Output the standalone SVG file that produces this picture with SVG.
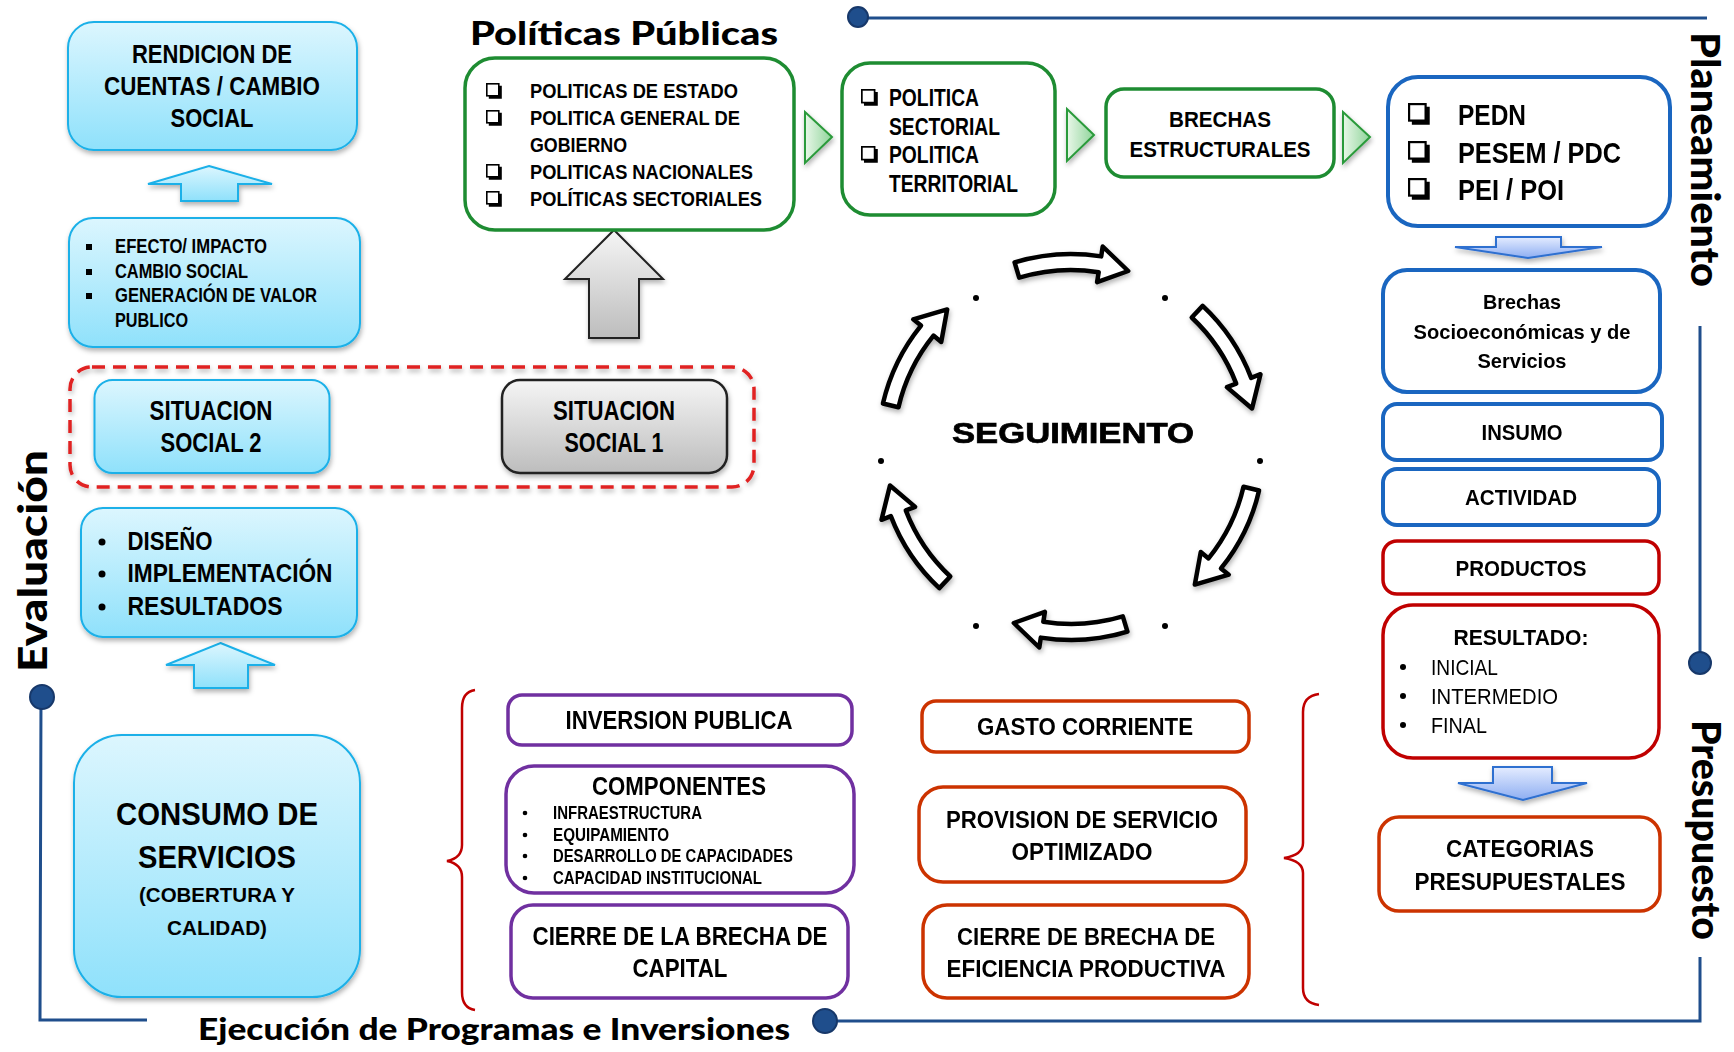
<svg xmlns="http://www.w3.org/2000/svg" width="1734" height="1052" viewBox="0 0 1734 1052">
<defs>
<style>
text{font-family:"Liberation Sans",Arial,sans-serif;fill:#000}
.b{font-weight:bold}
.c{text-anchor:middle}
.ttl{font-family:Lato,"Open Sans","Liberation Sans",sans-serif;font-weight:900}
.lb{fill:url(#gLb);stroke:#1ab0e8;stroke-width:2}
.grn{fill:#fff;stroke:#1e8c32;stroke-width:3.5}
.blu{fill:#fff;stroke:#1a66c0;stroke-width:4}
.red{fill:#fff;stroke:#c00000;stroke-width:3.5}
.org{fill:#fff;stroke:#cc3300;stroke-width:3.5}
.pur{fill:#fff;stroke:#7030a0;stroke-width:3.5}
.frame{fill:none;stroke:#1f4e8c;stroke-width:3}
.dot{fill:#1f4e8c;stroke:#17386a;stroke-width:2}
.brace{fill:none;stroke:#c00000;stroke-width:2.5}
.tri{fill:url(#gTri);stroke:#2a9a3a;stroke-width:2}
.dn{fill:url(#gBd);stroke:#2f6fd0;stroke-width:2}
.cyc{fill:#fff;stroke:#000;stroke-width:4.5;stroke-linejoin:round}
</style>
<linearGradient id="gLb" x1="0" y1="0" x2="0" y2="1"><stop offset="0" stop-color="#dcf6fe"/><stop offset="1" stop-color="#8fe1fb"/></linearGradient>
<linearGradient id="gGr" x1="0" y1="0" x2="0" y2="1"><stop offset="0" stop-color="#f5f5f5"/><stop offset="1" stop-color="#bdbdbd"/></linearGradient>
<linearGradient id="gTri" x1="0" y1="0" x2="1" y2="0"><stop offset="0" stop-color="#e8f7e8"/><stop offset="1" stop-color="#8fd49a"/></linearGradient>
<linearGradient id="gBd" x1="0" y1="0" x2="0" y2="1"><stop offset="0" stop-color="#e4ecff"/><stop offset="1" stop-color="#8eaef2"/></linearGradient>
<filter id="sh" x="-20%" y="-20%" width="140%" height="150%"><feDropShadow dx="1" dy="3" stdDeviation="2.5" flood-color="#000" flood-opacity="0.3"/></filter>
<symbol id="chk" viewBox="0 0 20 20"><rect x="1" y="1" width="15" height="15" fill="#fff" stroke="#000" stroke-width="2"/><path d="M3.5,18 H18 V3.5" fill="none" stroke="#000" stroke-width="3.5"/></symbol>
<path id="carc" class="cyc" d="M1014.6,262.4 A193,193 0 0 1 1101.2,256.4 L1102.7,246.5 L1128.2,271.0 L1097.1,282.1 L1098.7,272.2 A177,177 0 0 0 1019.2,277.7 Z"/>
</defs>
<rect width="1734" height="1052" fill="#fff"/>

<!-- frame lines -->
<g id="frame">
<path class="frame" d="M858,18 L1707,18"/>
<circle class="dot" cx="858" cy="17" r="10"/>
<path class="frame" d="M1700,326 L1700,663"/>
<circle class="dot" cx="1700" cy="663" r="11"/>
<path class="frame" d="M1700,957 L1700,1021 L825,1021"/>
<circle class="dot" cx="825" cy="1021" r="12"/>
<path class="frame" d="M147,1020 L40,1020 L41,697"/>
<circle class="dot" cx="42" cy="697" r="12"/>
</g>

<!-- titles -->
<g id="titles">
<text class="ttl" x="470" y="45" font-size="33" textLength="308" lengthAdjust="spacingAndGlyphs">Políticas Públicas</text>
<text class="ttl" x="198" y="1040" font-size="31" textLength="592" lengthAdjust="spacingAndGlyphs">Ejecución de Programas e Inversiones</text>
<text class="ttl c" transform="translate(47,561) rotate(-90)" font-size="40" textLength="222" lengthAdjust="spacingAndGlyphs">Evaluación</text>
<text class="ttl c" transform="translate(1691,159.5) rotate(90)" font-size="40" textLength="255" lengthAdjust="spacingAndGlyphs">Planeamiento</text>
<text class="ttl c" transform="translate(1692,830) rotate(90)" font-size="40" textLength="220" lengthAdjust="spacingAndGlyphs">Presupuesto</text>
</g>

<!-- connectors -->
<g id="connectors">
<path class="lb" filter="url(#sh)" d="M209,166 L272,184 L238,184 L238,201 L181,201 L181,184 L148,184 Z"/>
<path class="lb" filter="url(#sh)" d="M220.5,643 L275,665 L248,665 L248,688 L194,688 L194,665 L166,665 Z"/>
<path fill="url(#gGr)" stroke="#222" stroke-width="2" filter="url(#sh)" d="M614,230 L663,279 L639,279 L639,338 L589,338 L589,279 L565,279 Z"/>
<path class="tri" filter="url(#sh)" d="M805,112 L832,137 L805,163 Z"/>
<path class="tri" filter="url(#sh)" d="M1067,109 L1094,135 L1067,161 Z"/>
<path class="tri" filter="url(#sh)" d="M1343,112 L1370,137 L1343,163 Z"/>
<path class="dn" filter="url(#sh)" d="M1496,237 L1561,237 L1561,247 L1602,247 L1528,258 L1455,247 L1496,247 Z"/>
<path class="dn" filter="url(#sh)" d="M1493,767 L1552,767 L1552,783 L1587,783 L1523,800 L1458,783 L1493,783 Z"/>
<path class="brace" d="M475,690 Q462,692 462,708 L462,845 Q462,858 447,861 Q462,864 462,877 L462,992 Q462,1008 475,1010"/>
<path class="brace" d="M1319,694 Q1303,696 1303,712 L1303,843 Q1303,855 1284,858 Q1303,861 1303,873 L1303,988 Q1303,1003 1319,1005"/>
</g>

<!-- seguimiento cycle -->
<g id="seguimiento">
<g filter="url(#sh)">
<use href="#carc"/>
<use href="#carc" transform="rotate(60 1071 447)"/>
<use href="#carc" transform="rotate(120 1071 447)"/>
<use href="#carc" transform="rotate(180 1071 447)"/>
<use href="#carc" transform="rotate(240 1071 447)"/>
<use href="#carc" transform="rotate(300 1071 447)"/>
</g>
<circle cx="976" cy="298" r="3"/><circle cx="1165" cy="298" r="3"/>
<circle cx="881" cy="461" r="3"/><circle cx="1260" cy="461" r="3"/>
<circle cx="976" cy="626" r="3"/><circle cx="1165" cy="626" r="3"/>
<text class="b c" x="1073" y="443" font-size="29" stroke="#000" stroke-width="0.7" textLength="242" lengthAdjust="spacingAndGlyphs">SEGUIMIENTO</text>
</g>

<!-- left column -->
<g id="rendicion">
<rect class="lb" filter="url(#sh)" x="68" y="22" width="289" height="128" rx="26"/>
<text class="b c" x="212" y="63" font-size="25.5" textLength="160" lengthAdjust="spacingAndGlyphs">RENDICION DE</text>
<text class="b c" x="212" y="95" font-size="25.5" textLength="216" lengthAdjust="spacingAndGlyphs">CUENTAS / CAMBIO</text>
<text class="b c" x="212" y="127" font-size="25.5" textLength="83" lengthAdjust="spacingAndGlyphs">SOCIAL</text>
</g>
<g id="efecto">
<rect class="lb" filter="url(#sh)" x="69" y="218" width="291" height="129" rx="24"/>
<rect x="86" y="244" width="6" height="6"/><rect x="86" y="269" width="6" height="6"/><rect x="86" y="293" width="6" height="6"/>
<text class="b" x="115" y="253" font-size="19.5" textLength="152" lengthAdjust="spacingAndGlyphs">EFECTO/ IMPACTO</text>
<text class="b" x="115" y="278" font-size="19.5" textLength="133" lengthAdjust="spacingAndGlyphs">CAMBIO SOCIAL</text>
<text class="b" x="115" y="302" font-size="19.5" textLength="202" lengthAdjust="spacingAndGlyphs">GENERACIÓN  DE VALOR</text>
<text class="b" x="115" y="327" font-size="19.5" textLength="73" lengthAdjust="spacingAndGlyphs">PUBLICO</text>
</g>
<g id="situaciones">
<rect x="70" y="367" width="684" height="120" rx="22" fill="none" stroke="#e02020" stroke-width="3.5" stroke-dasharray="13 8" filter="url(#sh)"/>
</g>
<g id="situacion2">
<rect class="lb" filter="url(#sh)" x="94.5" y="380" width="235" height="93" rx="18"/>
<text class="b c" x="211" y="420" font-size="27" textLength="123" lengthAdjust="spacingAndGlyphs">SITUACION</text>
<text class="b c" x="211" y="452" font-size="27" textLength="101" lengthAdjust="spacingAndGlyphs">SOCIAL 2</text>
</g>
<g id="situacion1">
<rect fill="url(#gGr)" stroke="#222" stroke-width="2.5" filter="url(#sh)" x="502" y="380" width="225" height="93" rx="18"/>
<text class="b c" x="614" y="420" font-size="27" textLength="122" lengthAdjust="spacingAndGlyphs">SITUACION</text>
<text class="b c" x="614" y="452" font-size="27" textLength="99" lengthAdjust="spacingAndGlyphs">SOCIAL 1</text>
</g>
<g id="diseno">
<rect class="lb" filter="url(#sh)" x="81" y="508" width="276" height="129" rx="22"/>
<circle cx="102" cy="542" r="3.5"/><circle cx="102" cy="574" r="3.5"/><circle cx="102" cy="607" r="3.5"/>
<text class="b" x="127.5" y="550" font-size="25" textLength="85" lengthAdjust="spacingAndGlyphs">DISEÑO</text>
<text class="b" x="127.5" y="582" font-size="25" textLength="205" lengthAdjust="spacingAndGlyphs">IMPLEMENTACIÓN</text>
<text class="b" x="127.5" y="615" font-size="25" textLength="155" lengthAdjust="spacingAndGlyphs">RESULTADOS</text>
</g>
<g id="consumo">
<rect class="lb" filter="url(#sh)" x="74" y="735" width="286" height="262" rx="48"/>
<text class="b c" x="217" y="825" font-size="32" textLength="202" lengthAdjust="spacingAndGlyphs">CONSUMO DE</text>
<text class="b c" x="217" y="868" font-size="32" textLength="158" lengthAdjust="spacingAndGlyphs">SERVICIOS</text>
<text class="b c" x="217" y="902" font-size="21" textLength="156" lengthAdjust="spacingAndGlyphs">(COBERTURA Y</text>
<text class="b c" x="217" y="935" font-size="21" textLength="100" lengthAdjust="spacingAndGlyphs">CALIDAD)</text>
</g>

<!-- top row -->
<g id="politicas">
<rect class="grn" x="465" y="58" width="329" height="172" rx="30"/>
<use href="#chk" x="486" y="83" width="16" height="16"/>
<use href="#chk" x="486" y="110" width="16" height="16"/>
<use href="#chk" x="486" y="164" width="16" height="16"/>
<use href="#chk" x="486" y="191" width="16" height="16"/>
<text class="b" x="530" y="98" font-size="21" textLength="208" lengthAdjust="spacingAndGlyphs">POLITICAS DE ESTADO</text>
<text class="b" x="530" y="125" font-size="21" textLength="210" lengthAdjust="spacingAndGlyphs">POLITICA GENERAL  DE</text>
<text class="b" x="530" y="152" font-size="21" textLength="97" lengthAdjust="spacingAndGlyphs">GOBIERNO</text>
<text class="b" x="530" y="179" font-size="21" textLength="223" lengthAdjust="spacingAndGlyphs">POLITICAS NACIONALES</text>
<text class="b" x="530" y="206" font-size="21" textLength="232" lengthAdjust="spacingAndGlyphs">POLÍTICAS SECTORIALES</text>
</g>
<g id="sectorial">
<rect class="grn" x="842" y="63" width="213" height="152" rx="28"/>
<use href="#chk" x="861" y="89" width="17" height="17"/>
<use href="#chk" x="861" y="146" width="17" height="17"/>
<text class="b" x="889" y="106" font-size="23.5" textLength="90" lengthAdjust="spacingAndGlyphs">POLITICA</text>
<text class="b" x="889" y="135" font-size="23.5" textLength="111" lengthAdjust="spacingAndGlyphs">SECTORIAL</text>
<text class="b" x="889" y="163" font-size="23.5" textLength="90" lengthAdjust="spacingAndGlyphs">POLITICA</text>
<text class="b" x="889" y="192" font-size="23.5" textLength="129" lengthAdjust="spacingAndGlyphs">TERRITORIAL</text>
</g>
<g id="brechas-estructurales">
<rect class="grn" x="1106" y="89" width="228" height="88" rx="18"/>
<text class="b c" x="1220" y="127" font-size="22" textLength="102" lengthAdjust="spacingAndGlyphs">BRECHAS</text>
<text class="b c" x="1220" y="157" font-size="22" textLength="181" lengthAdjust="spacingAndGlyphs">ESTRUCTURALES</text>
</g>
<g id="pedn">
<rect class="blu" x="1388" y="77" width="282" height="149" rx="30"/>
<use href="#chk" x="1408" y="103" width="22" height="22"/>
<use href="#chk" x="1408" y="141" width="22" height="22"/>
<use href="#chk" x="1408" y="178" width="22" height="22"/>
<text class="b" x="1458" y="125" font-size="30" textLength="68" lengthAdjust="spacingAndGlyphs">PEDN</text>
<text class="b" x="1458" y="163" font-size="30" textLength="163" lengthAdjust="spacingAndGlyphs">PESEM / PDC</text>
<text class="b" x="1458" y="200" font-size="30" textLength="106" lengthAdjust="spacingAndGlyphs">PEI / POI</text>
</g>

<!-- right column -->
<g id="brechas-socio">
<rect class="blu" x="1383" y="270" width="277" height="122" rx="24"/>
<text class="b c" x="1522" y="309" font-size="21" textLength="78" lengthAdjust="spacingAndGlyphs">Brechas</text>
<text class="b c" x="1522" y="339" font-size="21" textLength="217" lengthAdjust="spacingAndGlyphs">Socioeconómicas y de</text>
<text class="b c" x="1522" y="368" font-size="21" textLength="89" lengthAdjust="spacingAndGlyphs">Servicios</text>
</g>
<g id="insumo">
<rect class="blu" x="1383" y="404" width="279" height="56" rx="14"/>
<text class="b c" x="1522" y="440" font-size="22" textLength="81" lengthAdjust="spacingAndGlyphs">INSUMO</text>
</g>
<g id="actividad">
<rect class="blu" x="1383" y="469" width="276" height="56" rx="14"/>
<text class="b c" x="1521" y="505" font-size="22" textLength="112" lengthAdjust="spacingAndGlyphs">ACTIVIDAD</text>
</g>
<g id="productos">
<rect class="red" x="1383" y="541" width="276" height="53" rx="14"/>
<text class="b c" x="1521" y="576" font-size="22" textLength="131" lengthAdjust="spacingAndGlyphs">PRODUCTOS</text>
</g>
<g id="resultado">
<rect class="red" x="1383" y="605" width="276" height="153" rx="30"/>
<text class="b c" x="1521" y="645" font-size="22" textLength="135" lengthAdjust="spacingAndGlyphs">RESULTADO:</text>
<circle cx="1403" cy="667" r="3"/><circle cx="1403" cy="696" r="3"/><circle cx="1403" cy="725" r="3"/>
<text x="1431" y="675" font-size="22" textLength="67" lengthAdjust="spacingAndGlyphs">INICIAL</text>
<text x="1431" y="704" font-size="22" textLength="127" lengthAdjust="spacingAndGlyphs">INTERMEDIO</text>
<text x="1431" y="733" font-size="22" textLength="56" lengthAdjust="spacingAndGlyphs">FINAL</text>
</g>
<g id="categorias">
<rect class="org" x="1379" y="817" width="281" height="94" rx="20"/>
<text class="b c" x="1520" y="857" font-size="23.5" textLength="148" lengthAdjust="spacingAndGlyphs">CATEGORIAS</text>
<text class="b c" x="1520" y="890" font-size="23.5" textLength="211" lengthAdjust="spacingAndGlyphs">PRESUPUESTALES</text>
</g>

<!-- bottom middle -->
<g id="inversion">
<rect class="pur" x="508" y="695" width="344" height="50" rx="14"/>
<text class="b c" x="679" y="729" font-size="25" textLength="227" lengthAdjust="spacingAndGlyphs">INVERSION PUBLICA</text>
</g>
<g id="componentes">
<rect class="pur" x="506" y="766" width="348" height="127" rx="28"/>
<text class="b c" x="679" y="795" font-size="25" textLength="174" lengthAdjust="spacingAndGlyphs">COMPONENTES</text>
<circle cx="525" cy="813" r="2.3"/><circle cx="525" cy="835" r="2.3"/><circle cx="525" cy="856" r="2.3"/><circle cx="525" cy="878" r="2.3"/>
<text class="b" x="553" y="819" font-size="18" textLength="149" lengthAdjust="spacingAndGlyphs">INFRAESTRUCTURA</text>
<text class="b" x="553" y="841" font-size="18" textLength="116" lengthAdjust="spacingAndGlyphs">EQUIPAMIENTO</text>
<text class="b" x="553" y="862" font-size="18" textLength="240" lengthAdjust="spacingAndGlyphs">DESARROLLO DE CAPACIDADES</text>
<text class="b" x="553" y="884" font-size="18" textLength="209" lengthAdjust="spacingAndGlyphs">CAPACIDAD INSTITUCIONAL</text>
</g>
<g id="cierre-capital">
<rect class="pur" x="511" y="905" width="337" height="93" rx="22"/>
<text class="b c" x="680" y="945" font-size="25" textLength="295" lengthAdjust="spacingAndGlyphs">CIERRE DE LA BRECHA DE</text>
<text class="b c" x="680" y="977" font-size="25" textLength="95" lengthAdjust="spacingAndGlyphs">CAPITAL</text>
</g>
<g id="gasto">
<rect class="org" x="922" y="701" width="327" height="51" rx="14"/>
<text class="b c" x="1085" y="735" font-size="23" textLength="216" lengthAdjust="spacingAndGlyphs">GASTO CORRIENTE</text>
</g>
<g id="provision">
<rect class="org" x="919" y="787" width="327" height="95" rx="24"/>
<text class="b c" x="1082" y="828" font-size="24.5" textLength="272" lengthAdjust="spacingAndGlyphs">PROVISION DE SERVICIO</text>
<text class="b c" x="1082" y="860" font-size="24.5" textLength="141" lengthAdjust="spacingAndGlyphs">OPTIMIZADO</text>
</g>
<g id="cierre-eficiencia">
<rect class="org" x="923" y="905" width="326" height="93" rx="24"/>
<text class="b c" x="1086" y="945" font-size="24.5" textLength="258" lengthAdjust="spacingAndGlyphs">CIERRE DE BRECHA DE</text>
<text class="b c" x="1086" y="977" font-size="24.5" textLength="279" lengthAdjust="spacingAndGlyphs">EFICIENCIA PRODUCTIVA</text>
</g>
</svg>
